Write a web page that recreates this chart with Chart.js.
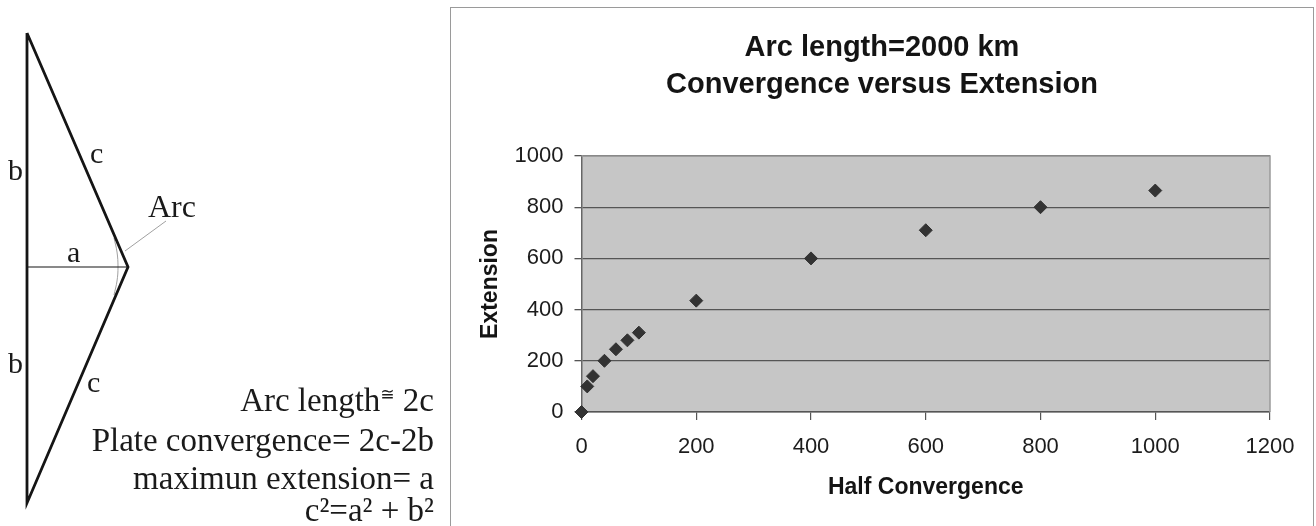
<!DOCTYPE html>
<html>
<head>
<meta charset="utf-8">
<script src="https://cdn.jsdelivr.net/npm/chart.js@4.4.1/dist/chart.umd.min.js"></script>
<style>
  html, body { margin: 0; padding: 0; background: #fff; overflow: hidden; }
  body { width: 1316px; height: 526px; position: relative; }
  #diagram { position: absolute; left: 0; top: 0; }
  #frame { position: absolute; left: 450px; top: 7px; width: 862px; height: 540px; border: 1px solid #9a9a9a; }
  #chart { position: absolute; left: 451px; top: 8px; }
  .lbl { position: absolute; font-family: 'Liberation Serif', 'Times New Roman', serif; color: #1a1a1a; line-height: 1; white-space: nowrap; }
  .eq { position: absolute; right: 882px; font-family: 'Liberation Serif', 'Times New Roman', serif; font-size: 33px; line-height: 1; color: #1a1a1a; white-space: nowrap; text-align: right; }
  .approx { font-family: 'DejaVu Sans', sans-serif; font-size: 17px; vertical-align: 11px; }
</style>
</head>
<body>
<canvas id="diagram" width="450" height="526"></canvas>
<div id="frame"></div>
<canvas id="chart" width="862" height="518"></canvas>

<!-- labels of the sketch -->
<div class="lbl" style="left:8px; top:155px; font-size:30px;">b</div>
<div class="lbl" style="left:90px; top:138px; font-size:30px;">c</div>
<div class="lbl" style="left:148px; top:190px; font-size:32px;">Arc</div>
<div class="lbl" style="left:67px; top:237px; font-size:30px;">a</div>
<div class="lbl" style="left:8px; top:348px; font-size:30px;">b</div>
<div class="lbl" style="left:87px; top:367px; font-size:30px;">c</div>

<div class="eq" style="top:384px;">Arc length<span class="approx">≅</span> 2c</div>
<div class="eq" style="top:424px;">Plate convergence= 2c-2b</div>
<div class="eq" style="top:462px;">maximun extension= a</div>
<div class="eq" style="top:494px;">c²=a² + b²</div>

<script>
// sketch of the arc geometry (page pixels)
const outlineX = [27, 128, 27, 27];
const outlineY = [33, 267, 503, 33];
const sideAX = [27, 128];
const sideAY = [267, 267];
const arcX = [114, 117, 118, 117, 114];
const arcY = [238, 252, 267, 281, 295];
const leaderX = [125, 166];
const leaderY = [251, 221];

// chart data
const halfConvergence = [0, 10, 20, 40, 60, 80, 100, 200, 400, 600, 800, 1000];
const extension = [0, 100, 140, 200, 245, 280, 310, 435, 600, 710, 800, 865];
const xTickValues = [0, 200, 400, 600, 800, 1000, 1200];
const yTickValues = [0, 200, 400, 600, 800, 1000];
const titleLines = ['Arc length=2000 km', 'Convergence versus Extension'];

const toPoints = (xs, ys) => xs.map((x, i) => ({ x: x, y: ys[i] }));

const lineSet = (xs, ys, color, width, tension) => ({
    data: toPoints(xs, ys),
    showLine: true,
    borderColor: color,
    borderWidth: width,
    pointRadius: 0,
    tension: tension || 0,
    clip: false
});

new Chart(document.getElementById('diagram').getContext('2d'), {
    type: 'scatter',
    data: {
        datasets: [
            lineSet(outlineX, outlineY, '#151515', 2.8),
            lineSet(sideAX, sideAY, '#151515', 1.2),
            lineSet(arcX, arcY, '#a0a0a0', 1, 0.4),
            lineSet(leaderX, leaderY, '#a0a0a0', 1)
        ]
    },
    options: {
        responsive: false,
        animation: false,
        layout: { padding: 0 },
        plugins: { legend: { display: false }, tooltip: { enabled: false } },
        scales: {
            x: { type: 'linear', display: false, min: 0, max: 450 },
            y: { type: 'linear', display: false, min: 0, max: 526, reverse: true }
        }
    }
});

// grey plot area like the old spreadsheet chart
const plotBackground = {
    id: 'plotBackground',
    beforeDraw(chart) {
        const { ctx, chartArea: a } = chart;
        ctx.save();
        ctx.fillStyle = '#c6c6c6';
        ctx.fillRect(a.left, a.top, a.right - a.left, a.bottom - a.top);
        ctx.restore();
    },
    beforeDatasetsDraw(chart) {
        const { ctx, chartArea: a } = chart;
        ctx.save();
        ctx.strokeStyle = '#9a9a9a';
        ctx.lineWidth = 1.5;
        ctx.beginPath();
        ctx.moveTo(a.left, a.top);
        ctx.lineTo(a.right, a.top);
        ctx.lineTo(a.right, a.bottom);
        ctx.stroke();
        ctx.restore();
    }
};

const fontFamily = "'Liberation Sans', Arial, sans-serif";
const plainNumber = v => String(v);

new Chart(document.getElementById('chart').getContext('2d'), {
    type: 'scatter',
    data: {
        datasets: [{
            label: 'Extension',
            data: toPoints(halfConvergence, extension),
            pointStyle: 'rectRot',
            pointRadius: 6.5,
            backgroundColor: '#333333',
            borderColor: '#333333',
            borderWidth: 1,
            clip: false
        }]
    },
    options: {
        responsive: false,
        animation: false,
        // equal side padding keeps the title centred on the frame
        layout: { padding: { left: 43, right: 43, top: 0, bottom: 0 } },
        plugins: {
            legend: { display: false },
            tooltip: { enabled: false },
            title: {
                display: true,
                text: titleLines,
                color: '#141414',
                font: { family: fontFamily, size: 29, weight: 'bold', lineHeight: 37 / 29 },
                padding: { top: 21, bottom: 53 }
            }
        },
        scales: {
            x: {
                type: 'linear',
                min: 0,
                max: 1200,
                afterBuildTicks: scale => { scale.ticks = xTickValues.map(v => ({ value: v })); },
                afterFit: scale => { scale.height = 114; },
                grid: { drawOnChartArea: false, drawTicks: true, tickLength: 8, color: '#555', lineWidth: 1.2 },
                border: { color: '#555', width: 1.5 },
                ticks: { color: '#1c1c1c', padding: 14, font: { family: fontFamily, size: 22 }, callback: plainNumber },
                title: {
                    display: true,
                    text: 'Half Convergence',
                    color: '#141414',
                    font: { family: fontFamily, size: 23, weight: 'bold' },
                    padding: { top: 0, bottom: 25 }
                }
            },
            y: {
                type: 'linear',
                min: 0,
                max: 1000,
                afterBuildTicks: scale => { scale.ticks = yTickValues.map(v => ({ value: v })); },
                afterFit: scale => { scale.width = 87.5; },
                grid: { drawOnChartArea: true, drawTicks: true, tickLength: 7, color: '#555', lineWidth: 1.3 },
                border: { color: '#666', width: 1.5 },
                ticks: { color: '#1c1c1c', padding: 11, font: { family: fontFamily, size: 22 }, callback: plainNumber },
                title: {
                    display: true,
                    text: 'Extension',
                    color: '#141414',
                    font: { family: fontFamily, size: 23, weight: 'bold' },
                    padding: { top: -17, bottom: 0 }
                }
            }
        }
    },
    plugins: [plotBackground]
});
</script>
</body>
</html>
